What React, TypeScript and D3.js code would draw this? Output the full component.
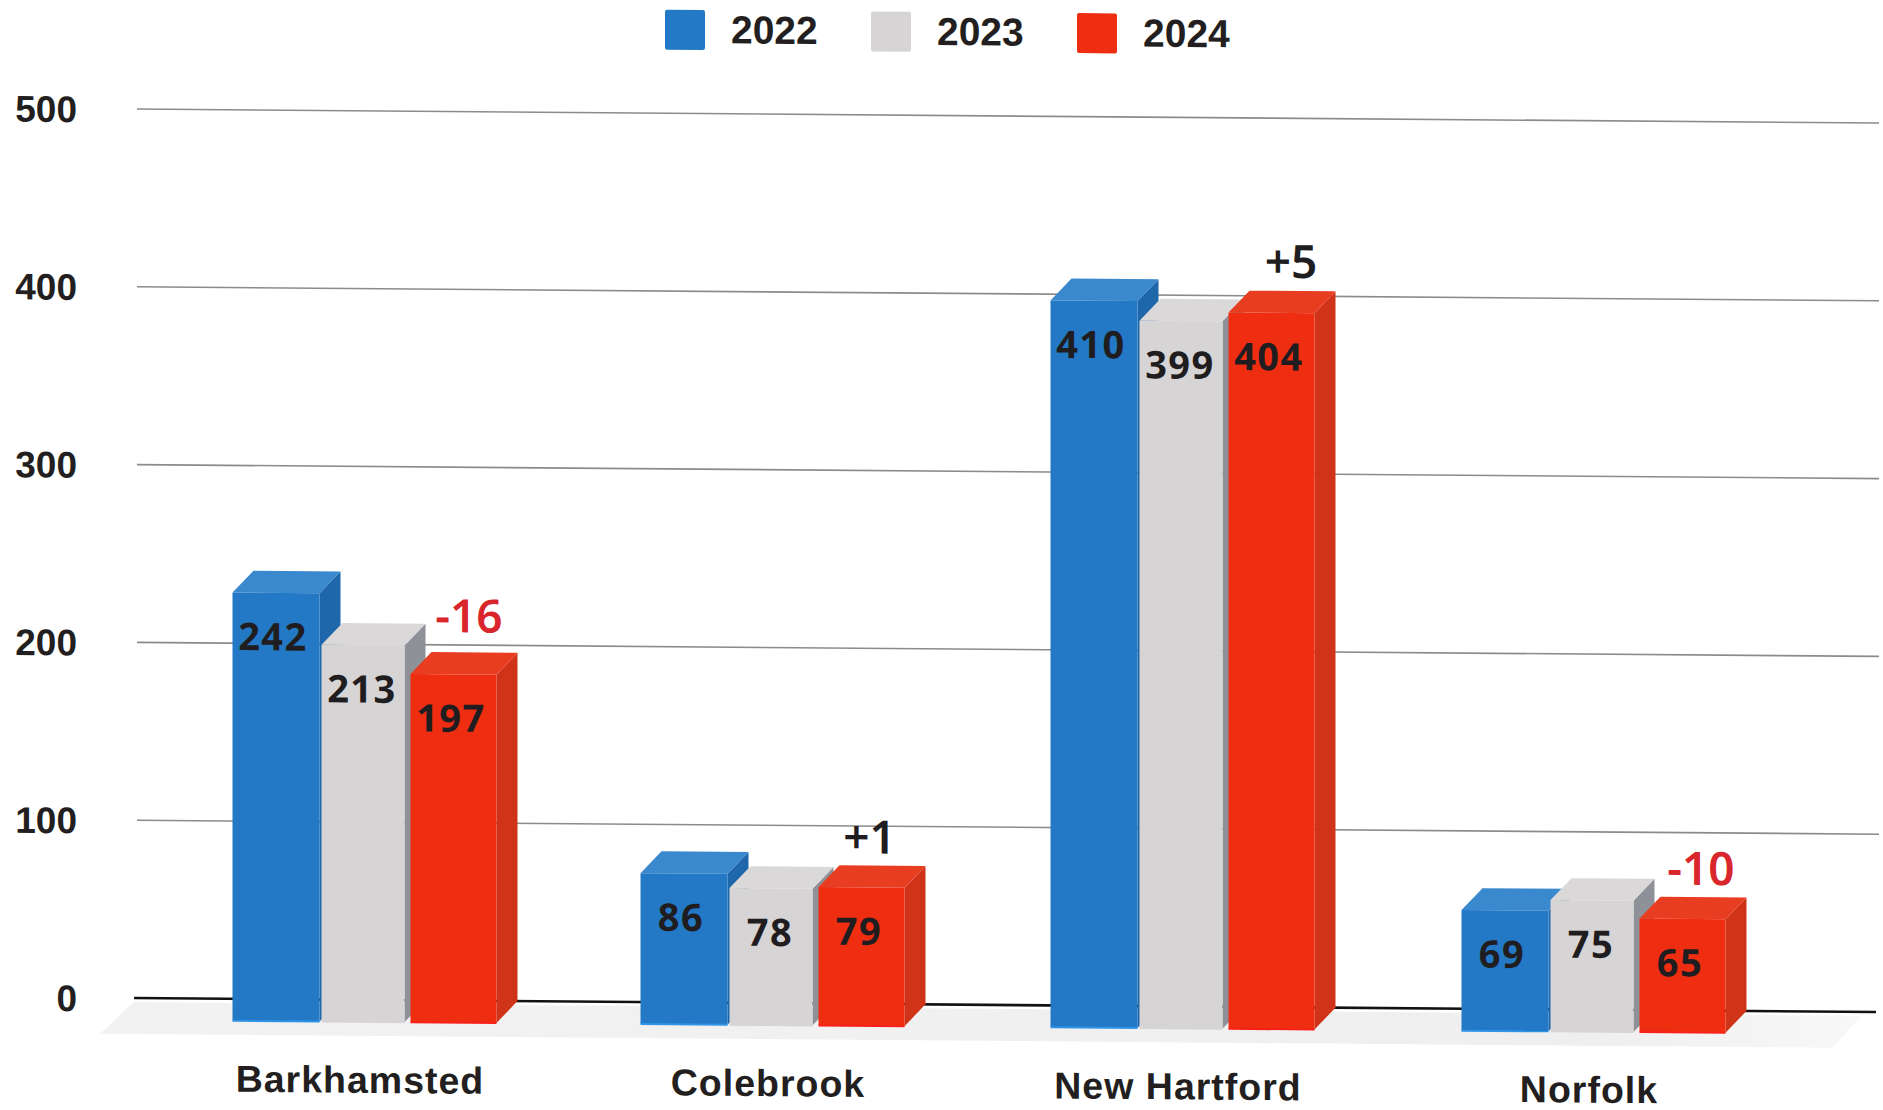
import React from "react";
import * as d3 from "d3";

// Towns and yearly counts
const towns = ["Barkhamsted", "Colebrook", "New Hartford", "Norfolk"];
const years = ["2022", "2023", "2024"];
const values2022 = [242, 86, 410, 69];
const values2023 = [213, 78, 399, 75];
const values2024 = [197, 79, 404, 65];
const yTicks = [0, 100, 200, 300, 400, 500];
const seriesValues = [values2022, values2023, values2024];

// Faces of each extruded bar: front, top, side
const faces = [
  { front: "#2379c6", top: "#3a88cd", side: "#1f67ab", edge: "#2f93e6" },
  { front: "#d7d4d6", top: "#dbd8da", side: "#8f9199", edge: "#d7d4d6" },
  { front: "#ee2d11", top: "#e93d22", side: "#d03418", edge: "#f9201a" },
];

// Chart geometry
const WIDTH = 1883;
const HEIGHT = 1110;
const TILT = 0.46;
const AXIS_LEFT = 134;
const AXIS_RIGHT = 1876;
const DEPTH_X = 21;
const DEPTH_Y = 22;
const BAR_LEFT_OFFSET = 42.5;
const BAR_WIDTHS = [87, 83, 86];
const TOP_INSET = 2;
const VALUE_LABEL_DROP = 42.5;

// Small per-group offsets, since the groups are not quite evenly spaced
const groupNudge = [0, -1, 0, 2];

// Placement of the change labels relative to the 2024 bar
const changeLift = [36, 28, 29, 28];
const changeShift = [16, 8.5, 20, 19];

const legendX = [665, 871, 1077];

const SANS = "'Liberation Sans', Arial, sans-serif";
const NOTO = "'Noto Sans', sans-serif";

const formatChange = d3.format("+d");

export default function App() {
  const x0 = d3.scaleBand<string>().domain(towns).range([159.5, 1795.5]);
  const x1 = d3.scalePoint<string>().domain(years).range([-89, 89]);
  const y = d3.scaleLinear().domain([0, 500]).range([998, 109]);
  const baseY = y(0) + DEPTH_Y;
  const frontTop = (v: number) => baseY - (y(0) - y(v)) + TOP_INSET;
  const groupCenter = (ti: number) => x0(towns[ti])! + x0.bandwidth() / 2 + groupNudge[ti];
  const poly = d3.line();

  return (
    <svg
      width={WIDTH}
      height={HEIGHT}
      viewBox={`0 0 ${WIDTH} ${HEIGHT}`}
      style={{ position: "absolute", left: 0, top: 0, background: "#fff" }}
    >
      <defs>
        <linearGradient id="floorFade" x1="0" x2="1" y1="0" y2="0">
          <stop offset="0" stopColor="#f3f2f2" />
          <stop offset="0.85" stopColor="#f0efef" />
          <stop offset="1" stopColor="#f8f8f8" />
        </linearGradient>
      </defs>
      <g
        transform={`translate(${AXIS_LEFT} ${y(0)}) skewY(${TILT}) translate(${-AXIS_LEFT} ${-y(0)})`}
      >
        {/* Floor below the bars */}
        <path
          d={poly([
            [AXIS_LEFT, y(0) + 4],
            [AXIS_RIGHT - 14, y(0) + 4],
            [AXIS_RIGHT - 44, y(0) + 36],
            [AXIS_LEFT - 34, y(0) + 36],
          ])!}
          fill="url(#floorFade)"
        />

        {/* Gridlines and baseline */}
        {yTicks.map((t) => (
          <line
            key={t}
            x1={t === 0 ? AXIS_LEFT : AXIS_LEFT + 3}
            x2={t === 0 ? AXIS_RIGHT : AXIS_RIGHT + 3}
            y1={y(t)}
            y2={y(t)}
            stroke={t === 0 ? "#14110f" : "#8b8b8b"}
            strokeWidth={t === 0 ? 2.6 : 1.6}
          />
        ))}
        {yTicks.map((t) => (
          <text
            key={t}
            x={77}
            y={y(t) + 1}
            textAnchor="end"
            dominantBaseline="central"
            fontFamily={SANS}
            fontWeight={700}
            fontSize={37}
            fill="#231f20"
          >
            {t}
          </text>
        ))}

        {/* Bars */}
        {towns.map((town, ti) => {
          const cx = groupCenter(ti);
          return (
            <g key={town}>
              {years.map((yr, si) => {
                const v = seriesValues[si][ti];
                const f = faces[si];
                const left = cx + x1(yr)! - BAR_LEFT_OFFSET;
                const right = left + BAR_WIDTHS[si];
                const top = frontTop(v);
                return (
                  <g key={yr}>
                    <path
                      d={poly([
                        [right, top],
                        [right + DEPTH_X, top - DEPTH_Y],
                        [right + DEPTH_X, baseY - DEPTH_Y],
                        [right, baseY],
                      ])!}
                      fill={f.side}
                    />
                    <path
                      d={poly([
                        [left, top],
                        [left + DEPTH_X, top - DEPTH_Y],
                        [right + DEPTH_X, top - DEPTH_Y],
                        [right, top],
                      ])!}
                      fill={f.top}
                    />
                    <rect x={left} y={top} width={BAR_WIDTHS[si]} height={baseY - top} fill={f.front} />
                    <line x1={left} x2={right} y1={baseY} y2={baseY} stroke={f.edge} strokeWidth={2} />
                  </g>
                );
              })}
            </g>
          );
        })}

        {/* Value labels on the bar fronts */}
        {towns.map((town, ti) => {
          const cx = groupCenter(ti);
          return years.map((yr, si) => {
            const v = seriesValues[si][ti];
            return (
              <text
                key={`${town}-${yr}`}
                x={cx + x1(yr)! - 2}
                y={frontTop(v) + VALUE_LABEL_DROP}
                textAnchor="middle"
                dominantBaseline="central"
                fontFamily={NOTO}
                fontWeight={700}
                fontSize={38}
                letterSpacing={1.5}
                fill="#1f1d20"
              >
                {v}
              </text>
            );
          });
        })}

        {/* Change from 2023 to 2024 */}
        {towns.map((town, ti) => {
          const cx = groupCenter(ti);
          const change = values2024[ti] - values2023[ti];
          return (
            <text
              key={town}
              x={cx + x1("2024")! + changeShift[ti]}
              y={y(values2024[ti]) - changeLift[ti]}
              textAnchor="middle"
              dominantBaseline="central"
              fontFamily={NOTO}
              fontWeight={600}
              fontSize={46}
              fill={change < 0 ? "#d8262c" : "#1f1d20"}
            >
              {formatChange(change).replace("−", "-")}
            </text>
          );
        })}

        {/* Town names */}
        {towns.map((town, ti) => (
          <text
            key={town}
            x={groupCenter(ti) - 4}
            y={1078}
            textAnchor="middle"
            dominantBaseline="central"
            fontFamily={SANS}
            fontWeight={700}
            fontSize={37.5}
            letterSpacing={1}
            fill="#231f20"
          >
            {town}
          </text>
        ))}

        {/* Legend */}
        {years.map((yr, i) => (
          <g key={yr}>
            <rect x={legendX[i]} y={5.5} width={40} height={40} rx={2} fill={faces[i].front} />
            <text
              x={legendX[i] + 66}
              y={25}
              dominantBaseline="central"
              fontFamily={SANS}
              fontWeight={700}
              fontSize={39}
              fill="#231f20"
            >
              {yr}
            </text>
          </g>
        ))}
      </g>
    </svg>
  );
}
